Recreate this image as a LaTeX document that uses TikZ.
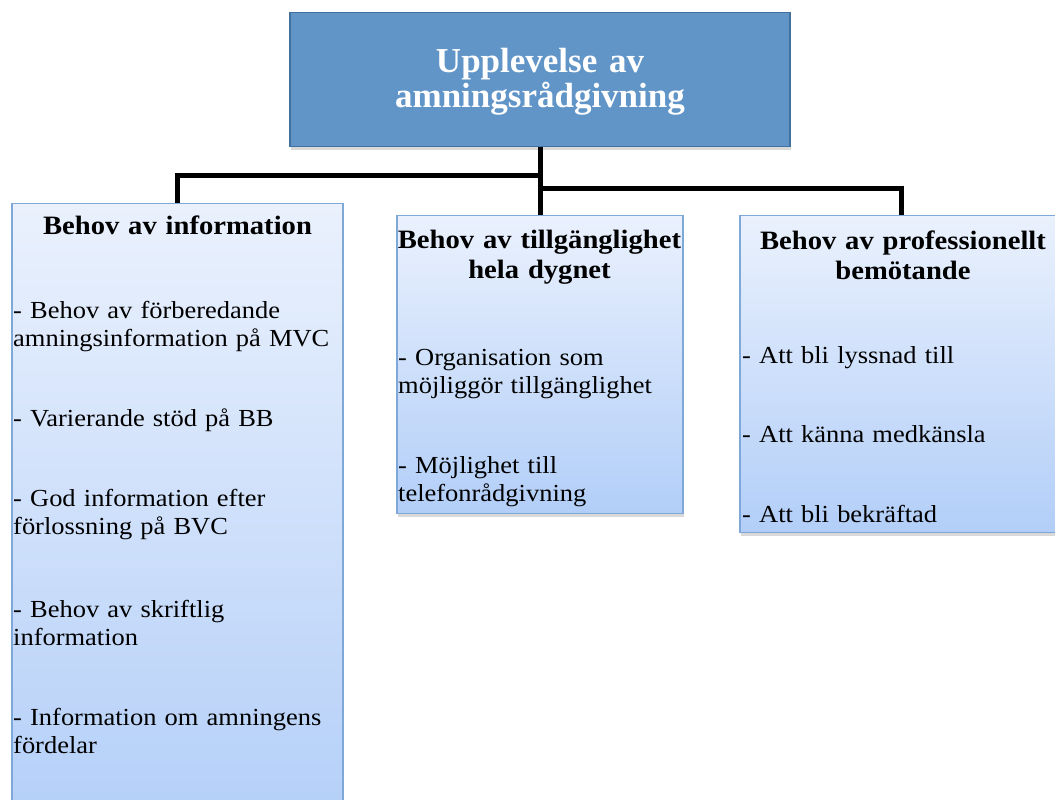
\documentclass[tikz,border=0pt]{standalone}
\usepackage{fontspec}
\setmainfont{Liberation Serif}[FakeStretch=1.08]
\newfontfamily\titlefont{Liberation Serif}
\usetikzlibrary{shadows}
\definecolor{topblue}{HTML}{6195C8}
\definecolor{topline}{HTML}{43719F}
\definecolor{boxline}{HTML}{7EA8D8}
\definecolor{boxtop}{HTML}{EAF1FD}
\definecolor{boxbot}{HTML}{B2CEF8}
\begin{document}
\begin{tikzpicture}[x=1pt,y=-1pt,line join=miter]
    \tikzset{hd/.style={draw=topline,line width=1.2pt,fill=topblue,rectangle,anchor=north,inner sep=0pt,drop shadow={opacity=0.3,shadow xshift=1pt,shadow yshift=-3pt}},
        s/.style={draw=boxline,line width=1.2pt,top color=boxtop,bottom color=boxbot,rectangle,anchor=north,inner sep=0pt,drop shadow={opacity=0.3,shadow xshift=1pt,shadow yshift=-3pt}},
        ttl/.style={inner sep=0pt,anchor=base,text width=480pt,align=center,text=white,font=\titlefont\bfseries\fontsize{35}{35}\selectfont},
        rub/.style={inner sep=0pt,anchor=base,text width=320pt,align=center,font=\bfseries\fontsize{26.5}{30}\selectfont},
        li/.style={inner sep=0pt,anchor=base west,text width=340pt,align=left,font=\fontsize{24.5}{28}\selectfont}}
    \useasboundingbox (0,0) rectangle (1055,800);

    \path(540,12)node[hd,minimum width=500pt,minimum height=134pt](top){}
    (177.5,203)node[s,minimum width=331pt,minimum height=640pt](info){}
    (540,215)node[s,minimum width=286pt,minimum height=298pt](tillg){}
    (901,215)node[s,minimum width=322pt,minimum height=317pt](prof){};

    \coordinate (j1) at (540,175);\coordinate (j2) at (540,188);
    \draw[line width=5pt] (top.south)--(tillg.north);
    \foreach \x/\y in {j1/info,j2/prof}{
        \draw[line width=5pt] (\x)-|(\y.north);	}

    \path(540,73)node[ttl](titel){Upplevelse av\\amningsrådgivning}
    (177.5,234)node[rub](r1){Behov av information}
    (539.5,248)node[rub](r2){Behov av tillgänglighet\\hela dygnet}
    (903,249)node[rub](r3){Behov av professionellt\\bemötande};

    \path(13,318)node[li](i1){- Behov av förberedande\\amningsinformation på MVC}
    (13,426)node[li](i2){- Varierande stöd på BB}
    (13,506)node[li](i3){- God information efter\\förlossning på BVC}
    (13,617)node[li](i4){- Behov av skriftlig\\information}
    (13,725)node[li](i5){- Information om amningens\\fördelar}
    (398,365)node[li](t1){- Organisation som\\möjliggör tillgänglighet}
    (398,473)node[li](t2){- Möjlighet till\\telefonrådgivning}
    (742,363)node[li](p1){- Att bli lyssnad till}
    (742,442)node[li](p2){- Att känna medkänsla}
    (742,522)node[li](p3){- Att bli bekräftad};
\end{tikzpicture}
\end{document}
